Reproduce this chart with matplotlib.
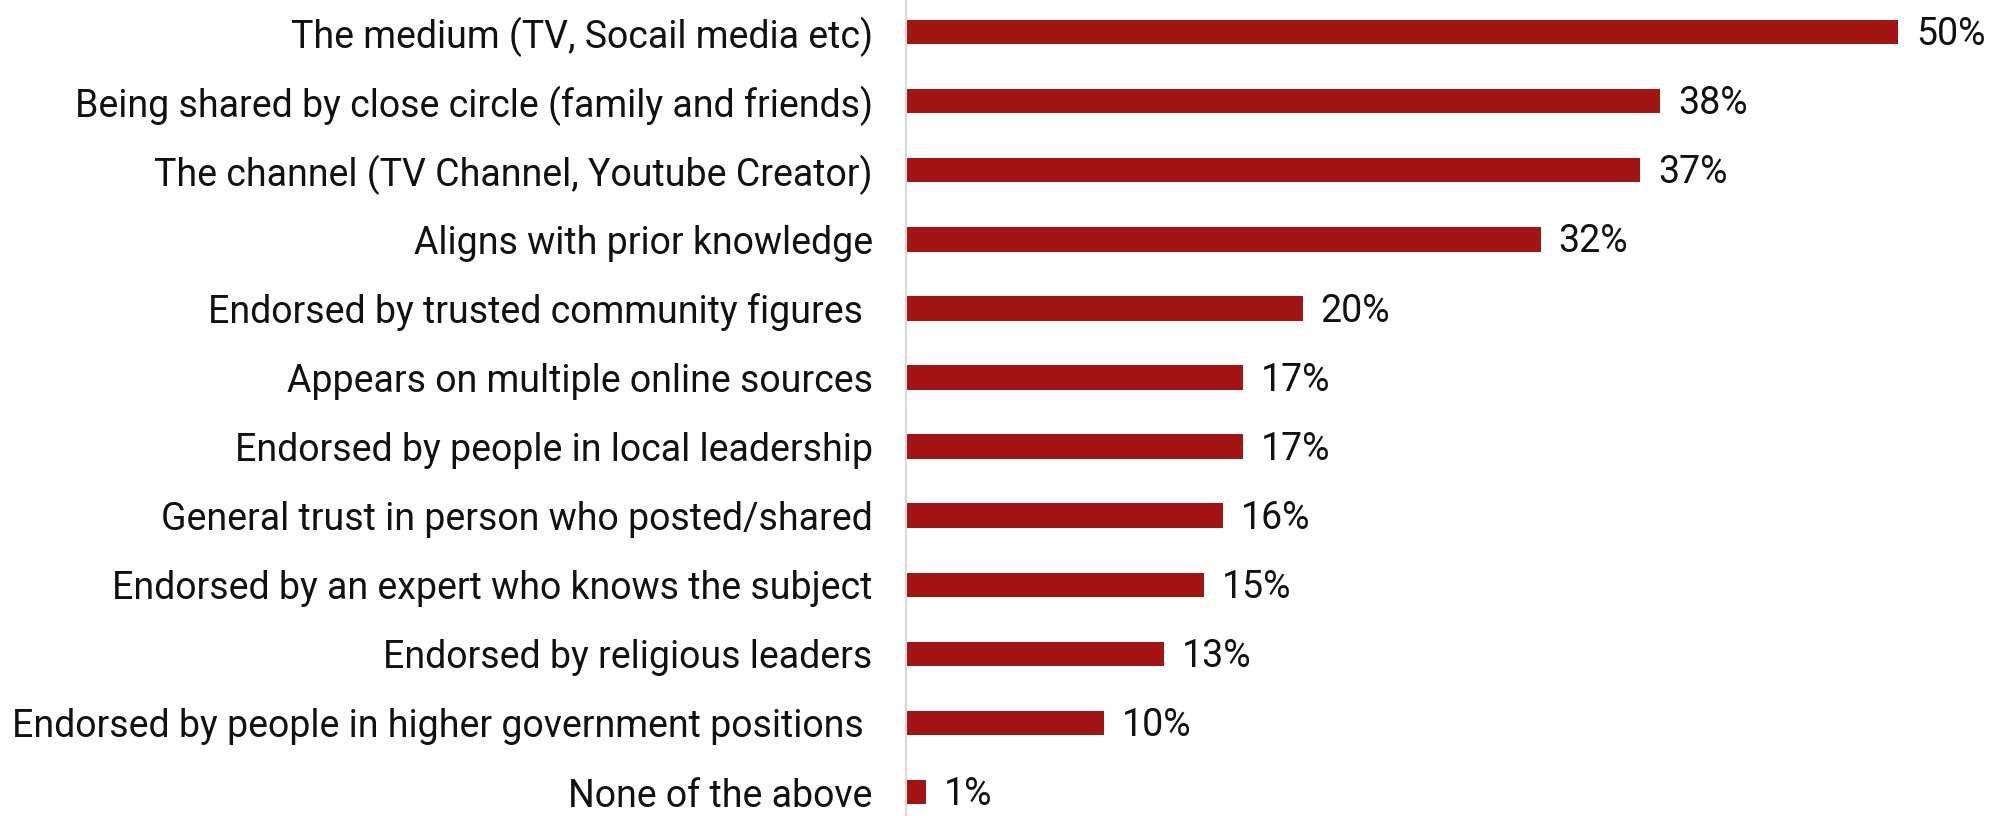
import matplotlib.pyplot as plt

# survey answers, top to bottom
labels = [
    "The medium (TV, Socail media etc)",
    "Being shared by close circle (family and friends)",
    "The channel (TV Channel, Youtube Creator)",
    "Aligns with prior knowledge",
    "Endorsed by trusted community figures ",
    "Appears on multiple online sources",
    "Endorsed by people in local leadership",
    "General trust in person who posted/shared",
    "Endorsed by an expert who knows the subject",
    "Endorsed by religious leaders",
    "Endorsed by people in higher government positions ",
    "None of the above",
]
values = [50, 38, 37, 32, 20, 17, 17, 16, 15, 13, 10, 1]

bar_color = "#a31414"

plt.rcParams['font.family'] = ['Roboto', 'DejaVu Sans']

fig = plt.figure(figsize=(20.07, 8.16), dpi=100)
ax = fig.add_axes([906 / 2007, 0.0, (1898 - 906) / 2007, 1.0])

pos = list(range(len(labels)))
ax.barh(pos, values, height=0.355, color=bar_color)

# value labels: digits vertically centred on the bar
for y, v in zip(pos, values):
    ax.text(v + 0.9, y + 0.19, f"{v}%", va='baseline', ha='left', fontsize=27,
            color='#111111', clip_on=False)

ax.set_xlim(0, 50)
ax.set_ylim(11.346, -0.463)
ax.set_yticks(pos)
ax.set_yticklabels(labels, fontsize=27, color='#111111')
ax.tick_params(axis='y', length=0, pad=24)
ax.set_xticks([])

for side in ['top', 'right', 'bottom']:
    ax.spines[side].set_visible(False)
ax.spines['left'].set_color('#d9d9d9')
ax.spines['left'].set_linewidth(1.5)

fig.savefig("out.png", dpi=100)
